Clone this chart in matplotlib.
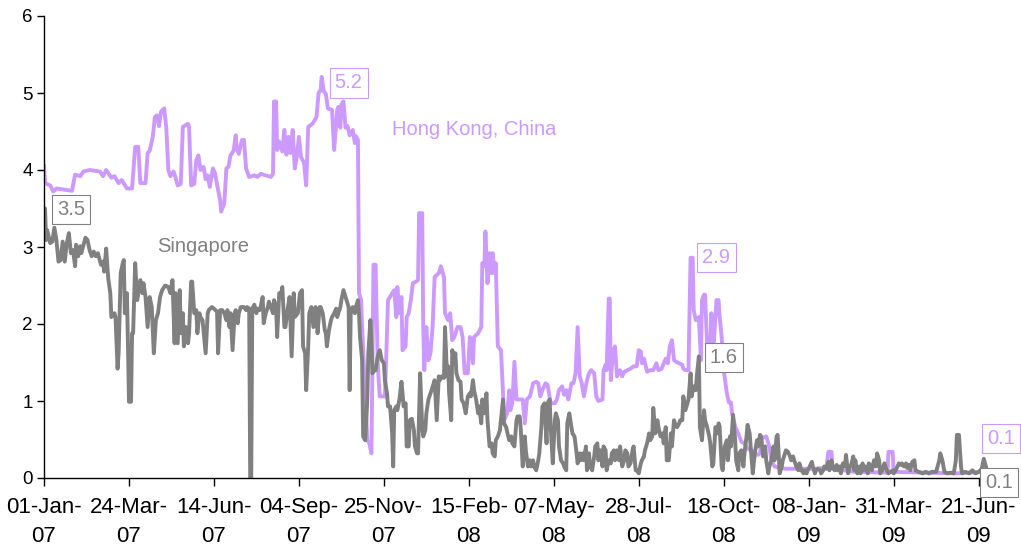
import matplotlib
matplotlib.use("Agg")
import matplotlib.pyplot as plt
import numpy as np

# Days counted from 01-Jan-07
hk_day = [0, 1, 6, 9, 12, 27, 30, 35, 38, 44, 54, 57, 60, 65, 68, 72, 75, 80, 85, 88, 91, 93, 98, 100, 102, 105, 107, 109, 111, 113, 116, 118, 120, 122, 125, 127,
          129, 132, 134, 139, 140, 142, 145, 147, 149, 151, 154, 156, 158, 160, 163, 165, 168, 170, 171, 174, 176, 178, 180, 183, 185, 186, 188, 191, 193, 195, 198, 203, 206, 209, 214, 219, 221, 222, 224, 225, 227, 230, 232, 234, 236, 238, 240, 242, 244, 246, 248, 251, 253, 255, 259,
          261, 263, 265, 267, 268, 270, 272, 274, 278, 280, 283, 284, 286, 287, 289, 291, 293, 295, 298, 300, 301, 303, 304, 306, 307, 310, 312, 314, 316, 317, 318, 320, 322, 323, 324, 329, 330, 332, 336, 338, 340, 341, 343, 345, 346, 349, 350, 352, 354, 356, 359, 361, 362, 365, 366, 367, 369, 371, 373, 375, 377, 381, 383, 386, 387, 390,
          392, 394, 396, 399, 402, 404, 406, 409, 411, 413, 414, 415, 419, 422, 423, 425, 426, 428, 430, 432, 433, 435, 436, 438, 441, 443, 444, 447, 449, 450, 452, 454, 456, 459, 462, 464, 466, 469, 472, 475, 477, 479, 481, 484, 486, 489, 493, 495, 497, 500, 502, 504, 506, 509, 511, 513, 515, 517, 519, 521,
          524, 526, 528, 531, 533, 535, 539, 540, 542, 543, 545, 546, 547, 549, 551, 553, 556, 558, 560, 563, 566, 569, 572, 574, 576, 577, 579, 582, 585, 588, 591, 593, 596, 600, 602, 604, 606, 608, 610, 613, 616, 617, 619, 622, 623, 624, 626, 627, 629, 632, 634, 635, 637, 638, 640, 643, 644, 646, 649, 651,
          652, 654, 656, 659, 661, 663, 664, 667, 670, 673, 676, 679, 683, 686, 689, 691, 693, 697, 700, 702, 705, 710, 716, 729, 742, 755, 757, 760, 761, 781, 814, 815, 819, 820, 850, 880, 907, 910]
hk_val = [4.05, 3.83, 3.80, 3.72, 3.76, 3.73, 3.94, 3.92, 3.98, 4.00, 3.98, 3.92, 4.00, 3.90, 3.92, 3.83, 3.87, 3.76, 3.76, 4.30, 4.30, 3.83, 3.83, 4.22, 4.25, 4.43, 4.69, 4.71, 4.57, 4.76, 4.80, 4.55, 4.00, 3.92, 3.98, 3.90,
          3.80, 3.82, 4.56, 4.60, 4.56, 3.80, 3.82, 4.13, 4.19, 4.00, 4.04, 3.88, 3.93, 3.78, 4.02, 3.96, 3.74, 3.61, 3.46, 3.57, 4.02, 4.04, 4.19, 4.25, 4.45, 4.28, 4.21, 4.39, 4.39, 4.02, 3.91, 3.93, 3.91, 3.95, 3.93, 3.91, 3.95, 4.89, 4.89, 4.26, 4.37, 4.24, 4.52, 4.20, 4.43, 4.22, 4.52, 4.02, 4.17, 4.43, 4.17, 4.09, 3.80, 4.56, 4.60,
          4.64, 4.69, 5.00, 5.04, 5.21, 5.02, 4.99, 4.80, 4.78, 4.26, 4.78, 4.82, 4.55, 4.85, 4.89, 4.55, 4.57, 4.45, 4.52, 4.35, 4.44, 4.39, 2.40, 2.31, 1.96, 1.10, 0.49, 0.45, 0.32, 1.53, 2.77, 2.77, 1.53, 1.27, 1.06, 1.06, 1.45, 2.31, 2.40, 2.44, 2.09, 2.48, 2.14, 2.35, 1.66, 1.71, 2.09, 2.14, 2.31, 2.53, 2.55, 2.57, 3.44, 3.44, 1.96, 1.40, 1.96, 1.53, 1.62, 1.96, 2.61, 2.66, 2.75, 2.61, 2.14, 2.05,
          2.14, 1.79, 1.83, 1.96, 1.96, 1.83, 1.36, 1.36, 1.83, 1.62, 1.49, 1.83, 1.88, 1.96, 2.79, 2.75, 3.20, 2.53, 2.92, 2.66, 2.92, 2.66, 2.79, 1.71, 1.66, 1.10, 0.75, 0.84, 1.14, 0.88, 0.97, 1.51, 1.02, 1.02, 1.02, 0.71, 1.02, 1.06, 1.23, 1.25, 1.23, 1.06, 1.14, 1.23, 1.21, 0.97, 0.97, 1.02, 1.14, 1.19, 1.08, 1.14, 1.02, 1.23, 1.23, 1.36, 1.96, 1.32, 1.23, 1.06,
          1.27, 1.36, 1.40, 1.36, 1.06, 1.00, 1.02, 1.40, 1.47, 1.40, 2.33, 2.33, 1.27, 1.62, 1.71, 1.32, 1.40, 1.32, 1.38, 1.40, 1.42, 1.45, 1.45, 1.66, 1.64, 1.49, 1.55, 1.38, 1.40, 1.40, 1.49, 1.40, 1.42, 1.55, 1.49, 1.71, 1.79, 1.53, 1.51, 1.49, 1.47, 1.42, 1.40, 1.40, 2.18, 2.86, 2.86, 2.18, 2.05, 2.09, 1.53, 2.31, 2.38, 2.38, 1.71, 1.62, 2.14, 1.66, 2.31, 2.31,
          2.10, 1.83, 1.40, 1.10, 0.98, 0.98, 0.84, 0.67, 0.58, 0.47, 0.45, 0.38, 0.36, 0.32, 0.30, 0.32, 0.52, 0.54, 0.41, 0.23, 0.15, 0.13, 0.12, 0.12, 0.12, 0.13, 0.34, 0.34, 0.12, 0.08, 0.07, 0.34, 0.34, 0.08, 0.07, 0.06, 0.08, 0.10]

sg_day = [0, 1, 2, 3, 6, 8, 10, 12, 14, 16, 18, 20, 22, 24, 26, 28, 30, 31, 33, 35, 36, 40, 42, 44, 46, 48, 50, 52, 55, 57, 58, 60, 62, 64, 65, 68, 69, 71, 72, 74, 76, 77, 78, 80, 81, 82, 84, 85, 86, 88, 90, 92, 93, 95, 96, 98, 100, 102, 104, 106, 108, 110, 112, 114, 117, 120, 122, 124, 126,
          127, 129, 131, 132, 134, 135, 137, 139, 140, 142, 143, 145, 147, 148, 150, 151, 153, 156, 158, 159, 162, 164, 167, 168, 170, 172, 174, 176, 177, 179, 180, 182, 184, 185, 187, 188, 190, 192, 193, 195, 196, 198, 199, 200, 201, 203, 205, 206, 208, 209, 211, 212, 214, 216, 217, 219, 221, 222, 224, 225, 227, 229, 230, 232, 233, 235, 237, 239, 241, 242, 245, 247, 249, 250, 252, 253, 255, 256, 258,
          260, 262, 263, 264, 266, 267, 269, 271, 272, 273, 275, 277, 278, 280, 282, 283, 284, 286, 287, 289, 291, 292, 294, 295, 296, 298, 300, 301, 303, 304, 305, 307, 308, 310, 312, 313, 315, 316, 317, 319, 320, 322, 324, 326, 328, 329, 331, 332, 334, 336, 337, 338, 340, 341, 343, 345, 346, 347, 349, 350, 352, 353, 355, 357, 358, 360, 361, 363, 365, 366, 368, 369, 371, 373, 374, 376, 377, 379, 381, 382, 384, 386, 387, 389,
          390, 391, 393, 394, 396, 397, 398, 400, 402, 403, 405, 407, 409, 411, 412, 414, 415, 417, 419, 420, 422, 423, 425, 427, 428, 430, 432, 433, 435, 436, 438, 440, 441, 443, 444, 446, 448, 449, 451, 452, 454, 456, 457, 459, 460, 462, 464, 465, 467, 469, 470, 472, 473, 475, 477, 478, 480, 481, 483, 485, 486, 488, 489, 491, 493, 494, 496, 497, 499, 501, 502, 504, 505, 507, 509, 510, 512, 514, 515, 517, 518, 520,
          521, 523, 524, 526, 527, 529, 531, 532, 534, 535, 537, 539, 540, 542, 543, 545, 547, 548, 550, 551, 553, 555, 556, 558, 560, 561, 563, 564, 566, 568, 569, 571, 572, 574, 576, 577, 579, 580, 582, 584, 585, 587, 588, 590, 592, 593, 595, 597, 598, 600, 601, 603, 605, 606, 608, 609, 611, 613, 614, 616, 617, 619, 621, 622, 624, 625, 627, 629, 630, 632, 633, 635, 637, 638, 640, 642, 643, 645, 646, 648, 650, 651,
          652, 654, 655, 657, 659, 660, 662, 663, 665, 667, 668, 670, 671, 673, 675, 676, 678, 679, 681, 683, 684, 686, 688, 689, 691, 692, 694, 696, 697, 699, 700, 702, 704, 705, 707, 708, 710, 712, 713, 715, 716, 718, 720, 721, 723, 724, 726, 728, 729, 731, 733, 734, 736, 737, 739, 741, 742, 744, 745, 747, 749, 750, 752, 753, 755, 757, 758, 760, 761, 763, 765, 766, 768, 769, 771, 773, 774, 776, 778, 779, 781, 782,
          783, 785, 787, 788, 790, 791, 793, 795, 796, 798, 799, 801, 803, 804, 806, 807, 809, 811, 812, 814, 815, 819, 820, 822, 825, 827, 828, 830, 832, 833, 835, 836, 838, 840, 841, 844, 848, 851, 854, 857, 861, 864, 865, 867, 869, 872, 875, 878, 880, 881, 883, 885, 886, 889, 893, 896, 899, 902, 905, 907, 910]
sg_val = [3.30, 3.50, 3.09, 3.22, 3.05, 3.07, 3.25, 3.09, 2.81, 2.83, 3.07, 2.81, 3.05, 3.18, 2.92, 2.96, 2.75, 3.03, 2.88, 3.01, 2.92, 3.12, 3.09, 2.96, 2.88, 2.94, 2.88, 2.92, 2.77, 2.81, 2.68, 2.98, 2.59, 2.40, 2.09, 2.14, 2.09, 1.42, 1.62, 2.66, 2.79, 2.83, 2.14, 2.40, 1.75, 0.99, 0.99, 1.88, 1.88, 2.79, 2.31, 2.48, 2.57, 2.40, 2.53, 2.35, 1.96, 2.35, 2.22, 1.62, 2.05, 2.14, 2.35, 2.44, 2.50, 2.48, 2.40, 2.57, 1.75,
          2.40, 1.75, 2.44, 1.88, 2.14, 1.71, 1.96, 1.75, 1.88, 2.55, 2.55, 2.14, 2.18, 1.88, 2.14, 2.09, 2.05, 1.62, 2.14, 2.18, 2.22, 2.20, 2.16, 1.62, 2.18, 2.18, 2.14, 2.05, 2.18, 1.96, 2.14, 1.66, 2.14, 2.18, 2.01, 2.14, 2.22, 2.22, 2.22, 2.18, 2.22, 2.20, 0.00, 0.00, 2.20, 2.25, 2.14, 2.20, 2.18, 2.22, 2.35, 2.01, 2.14, 2.22, 2.29, 2.22, 2.14, 2.31, 2.22, 1.83, 2.40, 2.40, 2.48, 1.96, 1.96, 2.18, 2.35, 1.58, 2.40, 2.09, 2.14, 2.40, 2.44, 1.71, 1.62, 1.14, 1.71, 2.14, 2.22,
          1.96, 2.22, 2.14, 1.88, 2.22, 2.22, 2.14, 1.92, 1.88, 1.71, 1.92, 2.05, 2.09, 2.14, 2.20, 2.09, 2.14, 2.22, 2.31, 2.44, 2.35, 2.31, 2.22, 1.14, 2.14, 2.22, 2.14, 2.22, 2.31, 2.14, 1.83, 1.53, 0.54, 0.49, 1.02, 1.62, 2.05, 1.75, 1.36, 1.40, 1.40, 1.58, 1.66, 1.53, 1.49, 1.27, 1.10, 0.93, 0.93, 0.58, 0.15, 0.88, 0.93, 0.88, 1.02, 1.25, 1.10, 0.93, 0.97, 0.41, 0.41, 0.75, 0.77, 0.62, 0.41, 0.32, 0.32, 1.36, 0.66, 0.54, 0.62, 0.84, 1.02, 1.10, 1.14, 1.23, 1.27, 0.75, 1.32, 1.27, 1.32, 1.30, 1.96, 1.32,
          1.45, 1.10, 0.75, 1.66, 1.53, 1.62, 1.36, 1.27, 1.25, 1.02, 0.97, 0.84, 1.06, 1.10, 1.06, 1.27, 1.14, 1.02, 0.84, 0.93, 0.71, 1.02, 0.84, 1.10, 0.75, 0.41, 0.45, 0.32, 0.28, 0.49, 0.54, 0.62, 0.75, 1.02, 0.71, 0.66, 0.54, 0.49, 0.54, 0.45, 0.41, 0.75, 0.80, 0.80, 0.66, 0.15, 0.54, 0.36, 0.15, 0.23, 0.15, 0.23, 0.15, 0.10, 0.23, 0.32, 0.66, 0.93, 0.97, 0.45, 0.97, 1.02, 0.66, 0.19, 0.75, 0.84, 0.75, 0.41, 0.23, 0.19, 0.15, 0.10, 0.71, 0.84, 0.66, 0.58, 0.54, 0.32, 0.19, 0.32, 0.23, 0.32,
          0.23, 0.41, 0.10, 0.32, 0.15, 0.10, 0.28, 0.41, 0.45, 0.23, 0.36, 0.15, 0.41, 0.36, 0.10, 0.23, 0.19, 0.32, 0.36, 0.23, 0.36, 0.23, 0.41, 0.15, 0.23, 0.36, 0.32, 0.15, 0.19, 0.36, 0.41, 0.10, 0.10, 0.06, 0.19, 0.23, 0.28, 0.36, 0.45, 0.58, 0.49, 0.54, 0.91, 0.58, 0.75, 0.66, 0.54, 0.58, 0.45, 0.66, 0.23, 0.23, 0.58, 0.41, 0.75, 0.71, 0.66, 0.71, 0.75, 0.75, 1.06, 0.88, 0.97, 1.02, 1.36, 1.06, 1.19, 1.14, 1.32, 1.58, 0.66, 0.49, 0.88, 0.75, 0.66, 0.54, 0.45, 0.15, 0.19, 0.66, 0.58, 0.71,
          0.67, 0.15, 0.10, 0.41, 0.49, 0.23, 0.54, 0.41, 0.82, 0.49, 0.23, 0.10, 0.32, 0.36, 0.15, 0.32, 0.54, 0.69, 0.58, 0.23, 0.06, 0.32, 0.49, 0.41, 0.56, 0.54, 0.28, 0.41, 0.23, 0.06, 0.15, 0.23, 0.41, 0.23, 0.54, 0.56, 0.06, 0.15, 0.23, 0.32, 0.36, 0.34, 0.28, 0.23, 0.28, 0.23, 0.15, 0.10, 0.19, 0.10, 0.06, 0.10, 0.06, 0.10, 0.15, 0.21, 0.15, 0.06, 0.10, 0.12, 0.10, 0.06, 0.10, 0.15, 0.12, 0.21, 0.10, 0.23, 0.15, 0.10, 0.17, 0.10, 0.15, 0.06, 0.19, 0.15, 0.30, 0.06, 0.15, 0.17, 0.28, 0.10,
          0.23, 0.06, 0.15, 0.06, 0.19, 0.10, 0.15, 0.06, 0.19, 0.15, 0.10, 0.23, 0.15, 0.32, 0.23, 0.06, 0.10, 0.19, 0.15, 0.08, 0.06, 0.10, 0.06, 0.10, 0.19, 0.17, 0.19, 0.15, 0.19, 0.13, 0.17, 0.10, 0.21, 0.23, 0.10, 0.08, 0.06, 0.08, 0.06, 0.08, 0.08, 0.23, 0.32, 0.23, 0.08, 0.06, 0.07, 0.06, 0.23, 0.56, 0.56, 0.15, 0.06, 0.08, 0.06, 0.10, 0.06, 0.08, 0.12, 0.25, 0.10]

tick_days = [0, 82, 164, 246, 328, 410, 492, 574, 656, 738, 820, 902]
tick_labels = ['01-Jan-\n07', '24-Mar-\n07', '14-Jun-\n07', '04-Sep-\n07', '25-Nov-\n07', '15-Feb-\n08',
               '07-May-\n08', '28-Jul-\n08', '18-Oct-\n08', '08-Jan-\n09', '31-Mar-\n09', '21-Jun-\n09']

HK_COLOR = '#CC99FF'
SG_COLOR = '#808080'

plt.rcParams['font.family'] = ['Liberation Sans', 'DejaVu Sans']

fig = plt.figure(figsize=(10.21, 5.46), dpi=100)
ax = fig.add_axes([44/1021, 1-478/546, (989-44)/1021, (478-16)/546])

ax.plot(hk_day, hk_val, color=HK_COLOR, linewidth=2.8, solid_joinstyle='round')
ax.plot(sg_day, sg_val, color=SG_COLOR, linewidth=2.8, solid_joinstyle='round')

ax.set_xlim(0, 912)
ax.set_ylim(0, 6)
ax.set_yticks(range(0, 7))
ax.set_xticks(tick_days)
ax.set_xticklabels(tick_labels, fontsize=16, linespacing=1.45)
ax.tick_params(axis='y', labelsize=13.5, length=5, width=1, pad=3)
ax.tick_params(axis='x', length=6, width=1, pad=8)
for s in ['top', 'right']:
    ax.spines[s].set_visible(False)
for s in ['left', 'bottom']:
    ax.spines[s].set_linewidth(1)

# series names
ax.text(336, 4.52, 'Hong Kong, China', color=HK_COLOR, fontsize=14.5, va='center', ha='left')
ax.text(109, 3.0, 'Singapore', color=SG_COLOR, fontsize=14.5, va='center', ha='left')

# value boxes
def box(x, y, s, c):
    ax.text(x, y, s, color=c, fontsize=14.5, ha='center', va='center', clip_on=False,
            bbox=dict(boxstyle='square,pad=0.25', facecolor='white', edgecolor=c, linewidth=0.8))

box(294, 5.13, '5.2', HK_COLOR)
box(26, 3.49, '3.5', SG_COLOR)
box(649, 2.86, '2.9', HK_COLOR)
box(656, 1.56, '1.6', SG_COLOR)
box(924, 0.51, '0.1', HK_COLOR)
box(922, -0.06, '0.1', SG_COLOR)

fig.savefig('out.png', dpi=100)
